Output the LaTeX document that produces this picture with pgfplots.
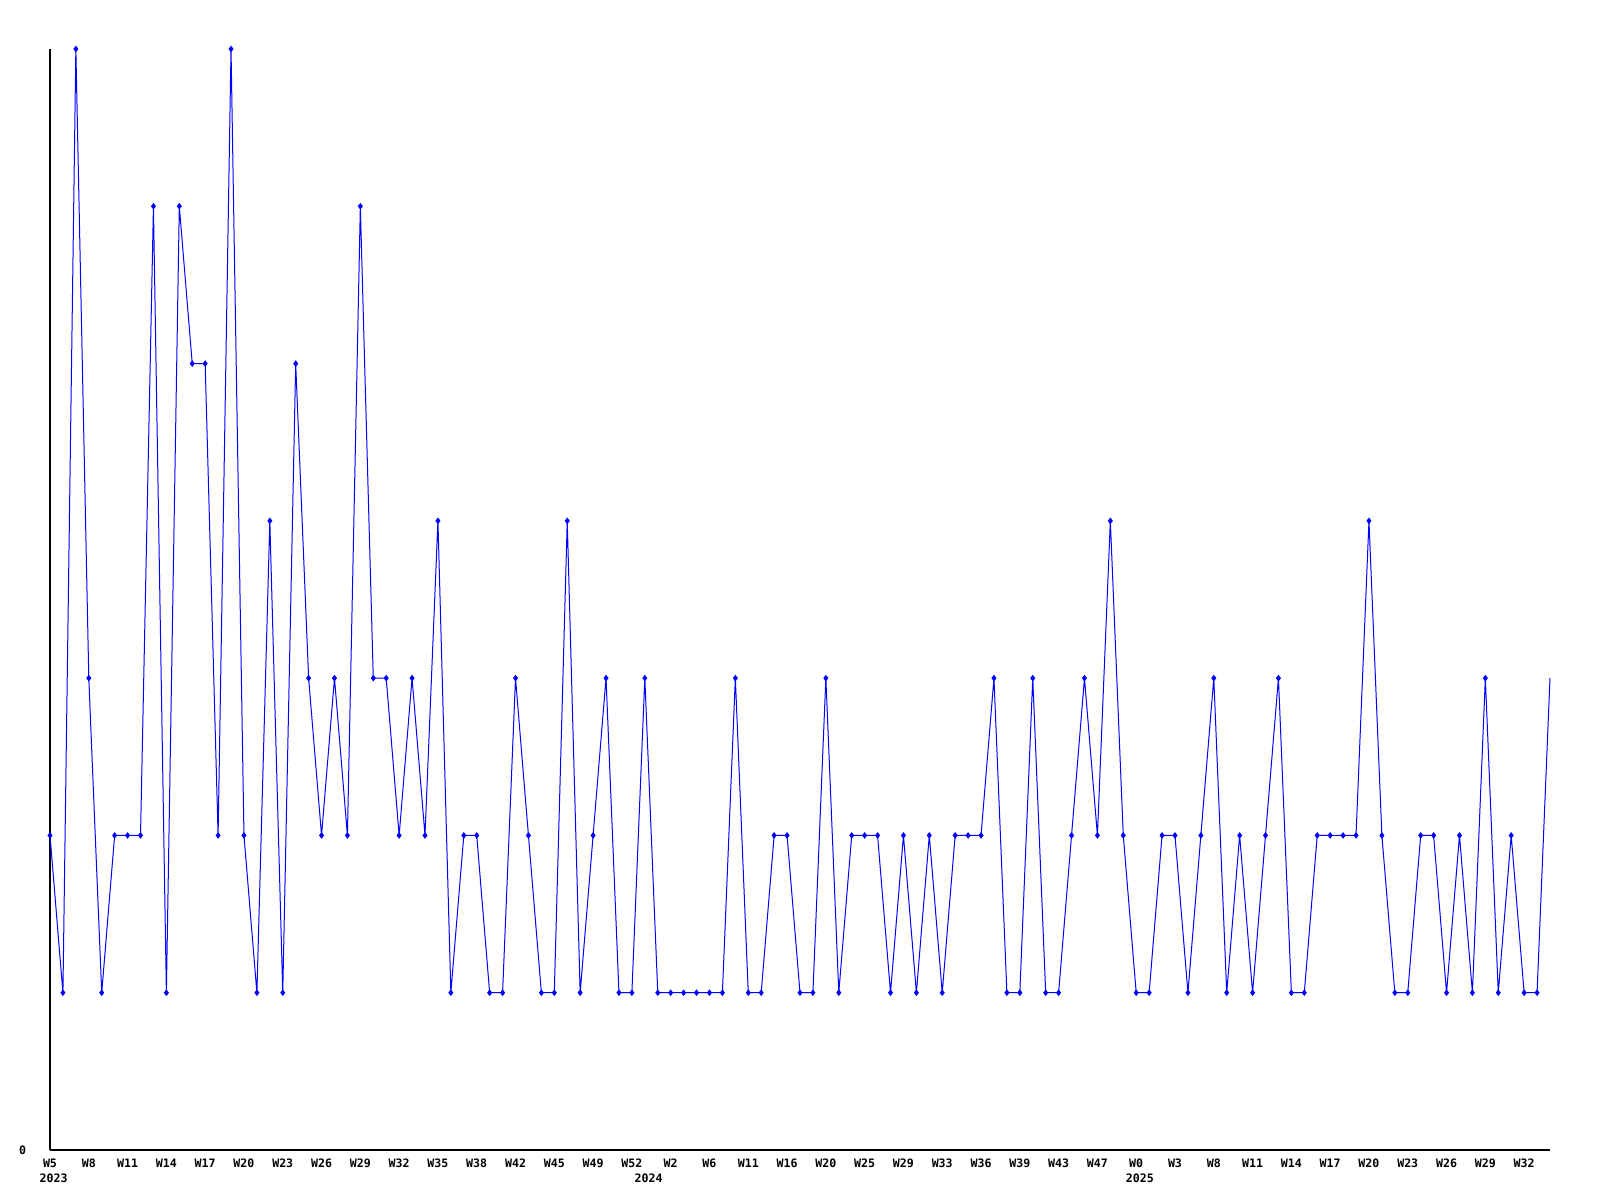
\documentclass[border=0pt]{standalone}
\usepackage{pgfplots}
\pgfplotsset{compat=1.18}
\usepackage{fontspec}
\setmonofont{DejaVu Sans Mono}
\newcommand{\lblfont}{\ttfamily\bfseries\fontsize{8.7}{10}\selectfont}
\begin{document}
\begin{tikzpicture}
\useasboundingbox (-37.5pt,-37.5pt) rectangle (1162.5pt,862.5pt);
\begin{axis}[
  scale only axis,
  width=1125pt, height=825.75pt,
  xmin=0, xmax=116, ymin=0, ymax=7,
  axis lines*=left,
  axis line style={black, line width=0.75pt},
  major tick length=0pt,
  xtick={0,3,...,114},
  xticklabels={W5,W8,W11,W14,W17,W20,W23,W26,W29,W32,W35,W38,W42,W45,W49,W52,W2,W6,W11,W16,W20,W25,W29,W33,W36,W39,W43,W47,W0,W3,W8,W11,W14,W17,W20,W23,W26,W29,W32},
  ytick={0}, yticklabels={0},
  tick label style={font=\lblfont},
  xticklabel style={anchor=center, yshift=-10.1pt},
  yticklabel style={anchor=center, xshift=-20.5pt},
  clip=false,
]
\addplot[blue, line width=0.75pt, mark=diamond*, mark size=1.9pt, mark options={solid}, mark indices={1,...,116}] coordinates {
(0,2)(1,1)(2,7)(3,3)(4,1)(5,2)(6,2)(7,2)(8,6)(9,1)
(10,6)(11,5)(12,5)(13,2)(14,7)(15,2)(16,1)(17,4)(18,1)(19,5)
(20,3)(21,2)(22,3)(23,2)(24,6)(25,3)(26,3)(27,2)(28,3)(29,2)
(30,4)(31,1)(32,2)(33,2)(34,1)(35,1)(36,3)(37,2)(38,1)(39,1)
(40,4)(41,1)(42,2)(43,3)(44,1)(45,1)(46,3)(47,1)(48,1)(49,1)
(50,1)(51,1)(52,1)(53,3)(54,1)(55,1)(56,2)(57,2)(58,1)(59,1)
(60,3)(61,1)(62,2)(63,2)(64,2)(65,1)(66,2)(67,1)(68,2)(69,1)
(70,2)(71,2)(72,2)(73,3)(74,1)(75,1)(76,3)(77,1)(78,1)(79,2)
(80,3)(81,2)(82,4)(83,2)(84,1)(85,1)(86,2)(87,2)(88,1)(89,2)
(90,3)(91,1)(92,2)(93,1)(94,2)(95,3)(96,1)(97,1)(98,2)(99,2)
(100,2)(101,2)(102,4)(103,2)(104,1)(105,1)(106,2)(107,2)(108,1)(109,2)
(110,1)(111,3)(112,1)(113,2)(114,1)(115,1)(116,3)
};
\node[anchor=west, inner sep=0pt, font=\lblfont, xshift=-7.9pt, yshift=-21pt] at (axis cs:0,0) {2023};
\node[anchor=west, inner sep=0pt, font=\lblfont, xshift=-7.9pt, yshift=-21pt] at (axis cs:46,0) {2024};
\node[anchor=west, inner sep=0pt, font=\lblfont, xshift=-7.9pt, yshift=-21pt] at (axis cs:84,0) {2025};
\end{axis}
\end{tikzpicture}
\end{document}
